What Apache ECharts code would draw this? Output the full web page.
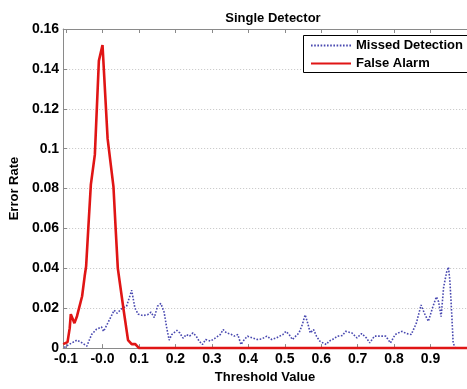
<!DOCTYPE html>
<html>
<head>
<meta charset="utf-8">
<script src="https://cdn.jsdelivr.net/npm/echarts@6/dist/echarts.min.js"></script>
<style>
  html, body { margin: 0; padding: 0; background: #fff; }
  #chart { width: 467px; height: 389px; }
</style>
</head>
<body>
<div id="chart"></div>
<script>
// ---- data ----
const xTickValues = [-0.1, 0, 0.1, 0.2, 0.3, 0.4, 0.5, 0.6, 0.7, 0.8, 0.9];
const xTickLabels = ["-0.1", "-0.0", "0.1", "0.2", "0.3", "0.4", "0.5", "0.6", "0.7", "0.8", "0.9"];
const yTickValues = [0, 0.02, 0.04, 0.06, 0.08, 0.1, 0.12, 0.14, 0.16];
const yTickLabels = ["0", "0.02", "0.04", "0.06", "0.08", "0.1", "0.12", "0.14", "0.16"];

const faX = [-0.108, -0.096, -0.09, -0.087, -0.077, -0.07, -0.056, -0.049, -0.045, -0.039, -0.032, -0.021, -0.01, 0, 0.014, 0.03, 0.036, 0.042, 0.058, 0.07, 0.08, 0.09, 0.1, 1.0];
const faY = [0.002, 0.003, 0.010, 0.017, 0.0125, 0.016, 0.026, 0.036, 0.041, 0.060, 0.082, 0.097, 0.144, 0.152, 0.105, 0.081, 0.060, 0.040, 0.019, 0.004, 0.002, 0.002, 0, 0];

const mdX = [-0.105, -0.092, -0.070, -0.056, -0.043, -0.030, -0.017, -0.003, 0.003, 0.019, 0.032, 0.040, 0.054, 0.066, 0.080, 0.089, 0.098, 0.111, 0.124, 0.133, 0.142, 0.151, 0.160, 0.169, 0.177, 0.183, 0.190, 0.204, 0.212, 0.221, 0.230, 0.239, 0.248, 0.257, 0.265, 0.274, 0.283, 0.296, 0.310, 0.323, 0.331, 0.340, 0.354, 0.362, 0.371, 0.380, 0.389, 0.398, 0.411, 0.424, 0.437, 0.451, 0.464, 0.477, 0.486, 0.495, 0.503, 0.512, 0.521, 0.530, 0.539, 0.548, 0.556, 0.563, 0.570, 0.579, 0.587, 0.596, 0.605, 0.614, 0.622, 0.631, 0.645, 0.658, 0.667, 0.684, 0.698, 0.711, 0.724, 0.733, 0.746, 0.764, 0.777, 0.790, 0.803, 0.821, 0.834, 0.847, 0.861, 0.874, 0.883, 0.894, 0.905, 0.916, 0.922, 0.929, 0.936, 0.944, 0.949, 0.953, 0.958, 0.962, 0.968];
const mdY = [0.0003, 0.0018, 0.004, 0.0026, 0.001, 0.0068, 0.0094, 0.0106, 0.0084, 0.0142, 0.019, 0.0175, 0.020, 0.021, 0.029, 0.020, 0.017, 0.0163, 0.0168, 0.018, 0.0153, 0.021, 0.0224, 0.018, 0.0093, 0.004, 0.0068, 0.0089, 0.0076, 0.005, 0.0068, 0.006, 0.0076, 0.006, 0.0035, 0.0018, 0.0043, 0.0035, 0.0051, 0.0068, 0.0093, 0.0076, 0.0068, 0.006, 0.0068, 0.0018, 0.0043, 0.006, 0.0051, 0.0043, 0.0046, 0.006, 0.0043, 0.0051, 0.006, 0.0068, 0.0084, 0.0068, 0.0043, 0.006, 0.0076, 0.0117, 0.0167, 0.0125, 0.0076, 0.0093, 0.006, 0.0035, 0.0026, 0.0018, 0.0035, 0.0043, 0.006, 0.0063, 0.0084, 0.0076, 0.0051, 0.0073, 0.0051, 0.0026, 0.006, 0.006, 0.006, 0.0026, 0.0068, 0.0084, 0.0073, 0.0068, 0.0125, 0.0216, 0.0175, 0.0134, 0.020, 0.0257, 0.0233, 0.0158, 0.0307, 0.038, 0.0406, 0.034, 0.0175, 0.0026, 0];

const seriesNames = ["Missed Detection", "False Alarm"];

const zip = (xs, ys) => xs.map((x, i) => [x, ys[i]]);
const labelFor = (vals, labels) => (v) => {
  let best = 0, d = Infinity;
  vals.forEach((t, i) => { const dd = Math.abs(t - v); if (dd < d) { d = dd; best = i; } });
  return labels[best];
};

const FONT = "'Liberation Sans', Arial, sans-serif";
const axisGray = '#8a8a8a';
const blue = '#4848b0';
const red = '#e01515';

const chart = echarts.init(document.getElementById('chart'), null, { renderer: 'canvas' });
chart.setOption({
  animation: false,
  backgroundColor: '#ffffff',
  title: {
    text: 'Single Detector',
    left: 268, top: 7, textAlign: 'center',
    textStyle: { fontFamily: FONT, fontSize: 13, fontWeight: 'bold', color: '#000' }
  },
  graphic: [{
    type: 'rect', left: 303, top: 35, z: 90,
    shape: { x: 0, y: 0, width: 220, height: 37 },
    style: { fill: '#fff', stroke: '#000', lineWidth: 1 }
  }],
  legend: {
    data: seriesNames,
    orient: 'vertical',
    left: 303, top: 35, z: 100,
    itemWidth: 40, itemHeight: 12, itemGap: 5,
    padding: [4, 10, 4, 7],
    borderWidth: 0,
    itemStyle: { color: 'rgba(0,0,0,0)', borderColor: 'rgba(0,0,0,0)', borderWidth: 0, opacity: 0 },
    textStyle: { fontFamily: FONT, fontSize: 13, fontWeight: 'bold', color: '#000' }
  },
  grid: { left: 62, top: 29, width: 419, height: 323, containLabel: false },
  xAxis: [{
    type: 'value', min: -0.108, max: 1.0,
    name: 'Threshold Value', nameLocation: 'middle', nameGap: 20,
    nameTextStyle: { fontFamily: FONT, fontSize: 13, fontWeight: 'bold', color: '#000' },
    axisLine: { show: true, onZero: false, lineStyle: { color: axisGray, width: 1 } },
    axisTick: { show: true, inside: true, length: 4, customValues: xTickValues, lineStyle: { color: axisGray } },
    axisLabel: { customValues: xTickValues, formatter: labelFor(xTickValues, xTickLabels), margin: 4,
      fontFamily: FONT, fontSize: 14, fontWeight: 'bold', color: '#000' },
    splitLine: { show: false }
  }, {
    type: 'value', min: -0.108, max: 1.0, position: 'top',
    axisLine: { show: true, onZero: false, lineStyle: { color: axisGray, width: 1 } },
    axisTick: { show: true, inside: true, length: 4, customValues: xTickValues, lineStyle: { color: axisGray } },
    axisLabel: { show: false },
    splitLine: { show: false }
  }],
  yAxis: {
    type: 'value', min: 0, max: 0.16, interval: 0.02,
    name: 'Error Rate', nameLocation: 'middle', nameGap: 32,
    nameTextStyle: { fontFamily: FONT, fontSize: 13, fontWeight: 'bold', color: '#000' },
    axisLine: { show: true, onZero: false, lineStyle: { color: axisGray, width: 1 } },
    axisTick: { show: true, inside: true, length: 4, lineStyle: { color: axisGray } },
    axisLabel: { formatter: labelFor(yTickValues, yTickLabels), margin: 4,
      fontFamily: FONT, fontSize: 14, fontWeight: 'bold', color: '#000' },
    splitLine: { show: true, lineStyle: { color: '#c4c4c4', type: [1, 2], width: 1 } }
  },
  series: [{
    name: seriesNames[0], type: 'line', xAxisIndex: 0,
    data: zip(mdX, mdY), symbol: 'none', smooth: false,
    lineStyle: { color: blue, width: 1.6, type: [1.6, 1.6] },
    itemStyle: { color: blue },
    z: 3
  }, {
    name: seriesNames[1], type: 'line', xAxisIndex: 0,
    data: zip(faX, faY), symbol: 'none', smooth: false,
    lineStyle: { color: red, width: 2.6 },
    itemStyle: { color: red },
    z: 4
  }]
});
</script>
</body>
</html>
